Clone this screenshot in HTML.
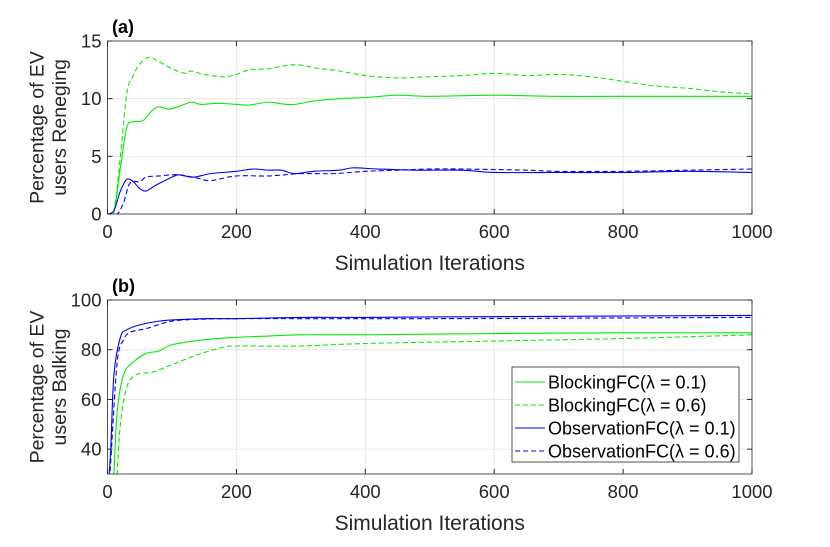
<!DOCTYPE html>
<html><head><meta charset="utf-8">
<style>
html,body{margin:0;padding:0;background:#fff;}
svg{display:block;font-family:"Liberation Sans",Arial,sans-serif;}
</style></head>
<body>
<svg id="chart" width="830" height="547" viewBox="0 0 830 547"></svg>
<script>
// Panel (a) data: percentage reneging
const xTicks = [0,200,400,600,800,1000];
const aYTicks = [0,5,10,15];
const bYTicks = [40,60,80,100];
const aBlock01X = [0,10,20,30,40,55,70,80,95,110,130,145,170,200,220,250,270,290,320,360,400,450,500,600,700,800,1000];
const aBlock01Y = [0,0.2,4,7.5,8.0,8.1,9.0,9.3,9.1,9.3,9.7,9.5,9.6,9.5,9.45,9.7,9.55,9.5,9.8,10.0,10.1,10.3,10.2,10.3,10.2,10.2,10.2];
const aBlock06X = [0,10,20,30,40,50,65,80,100,120,130,150,180,200,220,250,280,300,330,360,400,450,500,550,600,650,700,750,800,850,900,950,1000];
const aBlock06Y = [0,0.3,5,10.5,12,13,13.6,13.2,12.6,12.2,12.4,12.1,11.9,12.1,12.5,12.6,12.9,12.9,12.6,12.4,12.0,11.8,11.9,12.0,12.2,12.0,12.1,11.9,11.5,11.1,10.9,10.6,10.4];
const aObs01X = [0,10,20,30,40,50,60,75,100,110,120,135,160,200,225,250,270,290,320,360,380,420,480,550,600,700,800,900,1000];
const aObs01Y = [0,0.3,2,3.0,2.8,2.2,2.0,2.5,3.2,3.4,3.3,3.2,3.5,3.7,3.9,3.8,3.8,3.5,3.7,3.8,4.0,3.9,3.8,3.8,3.6,3.6,3.6,3.7,3.6];
const aObs06X = [0,15,25,35,50,60,80,110,140,160,200,250,300,350,400,450,500,550,650,700,800,900,1000];
const aObs06Y = [0,0,1,2.7,2.8,3.2,3.3,3.4,3.1,2.9,3.3,3.3,3.5,3.5,3.7,3.8,3.9,3.9,3.8,3.7,3.7,3.8,3.9];
// Panel (b) data: percentage balking
const bObs01X = [0,5,10,20,30,50,80,100,150,200,300,400,500,1000];
const bObs01Y = [20,40,70,85,88,90,91.5,92,92.5,92.5,93,93,93.2,93.8];
const bObs06X = [0,5,15,25,35,60,100,150,200,300,500,1000];
const bObs06Y = [15,35,75,84,87,88.5,91.5,92.3,92.5,92.5,92.5,93];
const bBlock01X = [8,10,15,25,40,60,80,100,150,200,250,300,400,600,800,1000];
const bBlock01Y = [20,30,55,70,75,78.5,79.5,82,84,85,85.5,86,86,86.5,86.8,86.8];
const bBlock06X = [13,15,20,30,45,70,100,140,180,200,300,400,600,800,1000];
const bBlock06Y = [20,30,50,65,70,71,74,78,81,81.5,81.5,82.5,83.5,84.5,86];

const NS="http://www.w3.org/2000/svg";
const svg=document.getElementById('chart');
function mk(tag,attrs,parent){const e=document.createElementNS(NS,tag);for(const k in attrs)e.setAttribute(k,attrs[k]);(parent||svg).appendChild(e);return e;}
const L=107.5,R=752;
const xs=v=>L+(R-L)*v/1000;
const aTop=41,aBot=214,bTop=300,bBot=474;
const ya=v=>aBot-(aBot-aTop)*v/15;
const yb=v=>bBot-(bBot-bTop)*(v-30)/70;

function path(xsArr,ysArr,yf){
  const p=xsArr.map((x,i)=>[xs(x),yf(ysArr[i])]);
  let d='M'+p[0][0].toFixed(2)+','+p[0][1].toFixed(2);
  for(let i=0;i<p.length-1;i++){
    const p0=p[i-1]||p[i],p1=p[i],p2=p[i+1],p3=p[i+2]||p2;
    const c1=[p1[0]+(p2[0]-p0[0])/6,p1[1]+(p2[1]-p0[1])/6];
    const c2=[p2[0]-(p3[0]-p1[0])/6,p2[1]-(p3[1]-p1[1])/6];
    d+=' C'+c1.map(v=>v.toFixed(2))+' '+c2.map(v=>v.toFixed(2))+' '+p2[0].toFixed(2)+','+p2[1].toFixed(2);
  }
  return d;
}

function panel(top,bot,yf,yTicks,name,series,label1,label2,tag){
  const g=mk('g',{});
  
  
  mk('rect',{x:L,y:top,width:R-L,height:bot-top,fill:'#fff'},g);
  const cid='clip-'+name;
  const cp=mk('clipPath',{id:cid},g);mk('rect',{x:L,y:top,width:R-L,height:bot-top},cp);
  xTicks.forEach(t=>{
    if(t>0&&t<1000)mk('line',{x1:xs(t),x2:xs(t),y1:top,y2:bot,stroke:'#e6e6e6','stroke-width':1},g);
    const tl=mk('text',{x:xs(t),y:bot+24,'text-anchor':'middle','font-size':18.5,fill:'#262626'},g);
    tl.textContent=t;
    
    
    mk('line',{x1:xs(t),x2:xs(t),y1:bot,y2:bot-5,stroke:'#262626'},g);
    mk('line',{x1:xs(t),x2:xs(t),y1:top,y2:top+5,stroke:'#262626'},g);
  });
  yTicks.forEach(t=>{
    const y=yf(t);
    if(y>top+1&&y<bot-1)mk('line',{x1:L,x2:R,y1:y,y2:y,stroke:'#e6e6e6'},g);
    const tl=mk('text',{x:L-6,y:y+6.5,'text-anchor':'end','font-size':18.5,fill:'#262626'},g);
    tl.textContent=t;
    
    
    mk('line',{x1:L,x2:L+5,y1:y,y2:y,stroke:'#262626'},g);
    mk('line',{x1:R,x2:R-5,y1:y,y2:y,stroke:'#262626'},g);
  });
  series.forEach(s=>{
    const p=mk('path',{d:path(s.x,s.y,yf),fill:'none',stroke:s.c,'stroke-width':1.1,'stroke-dasharray':s.dash?'5,3':'none','clip-path':'url(#'+cid+')'},g);
    
    
  });
  mk('rect',{x:L,y:top,width:R-L,height:bot-top,fill:'none',stroke:'#262626','stroke-width':0.8},g);
  const xl=mk('text',{x:(L+R)/2,y:bot+56,'text-anchor':'middle','font-size':21,fill:'#262626'},g);
  xl.textContent='Simulation Iterations';
  
  
  const cy=(top+bot)/2;
  const yl=mk('text',{transform:'translate(52,'+cy+') rotate(-90)','text-anchor':'middle','font-size':19.5,fill:'#262626'},g);
  
  
  const t1=mk('tspan',{x:0,y:-8.5},yl);t1.textContent=label1;
  const t2=mk('tspan',{x:0,y:14},yl);t2.textContent=label2;
  const pt=mk('text',{x:112,y:top-8,'font-size':18,'font-weight':'bold',fill:'#000'},g);
  pt.textContent=tag;
  
  
}
const G='#00ee00',B='#0000ee';
panel(aTop,aBot,ya,aYTicks,'panel-a-reneging',[
  {x:aBlock01X,y:aBlock01Y,c:G,dash:false,n:'line-blocking-0-1'},
  {x:aBlock06X,y:aBlock06Y,c:G,dash:true,n:'line-blocking-0-6'},
  {x:aObs01X,y:aObs01Y,c:B,dash:false,n:'line-observation-0-1'},
  {x:aObs06X,y:aObs06Y,c:B,dash:true,n:'line-observation-0-6'}],
  'Percentage of EV','users Reneging','(a)');
panel(bTop,bBot,yb,bYTicks,'panel-b-balking',[
  {x:bBlock01X,y:bBlock01Y,c:G,dash:false,n:'line-blocking-0-1'},
  {x:bBlock06X,y:bBlock06Y,c:G,dash:true,n:'line-blocking-0-6'},
  {x:bObs01X,y:bObs01Y,c:B,dash:false,n:'line-observation-0-1'},
  {x:bObs06X,y:bObs06Y,c:B,dash:true,n:'line-observation-0-6'}],
  'Percentage of EV','users Balking','(b)');

// legend
const lg=mk('g',{});


mk('rect',{x:512,y:367,width:227,height:95,fill:'#fff',stroke:'#262626','stroke-width':0.8},lg);
const entries=[['BlockingFC(',G,false,'0.1'],['BlockingFC(',G,true,'0.6'],['ObservationFC(',B,false,'0.1'],['ObservationFC(',B,true,'0.6']];
entries.forEach((e,i)=>{
  const y=382+i*23;
  const ln=mk('line',{x1:515,x2:545,y1:y,y2:y,stroke:e[1],'stroke-width':1.1,'stroke-dasharray':e[2]?'5,3':'none'},lg);
  
  
  const t=mk('text',{x:548,y:y+6.5,'font-size':18,fill:'#000'},lg);
  t.textContent=e[0]+'λ = '+e[3]+')';
  
  
});
</script>
</body></html>
